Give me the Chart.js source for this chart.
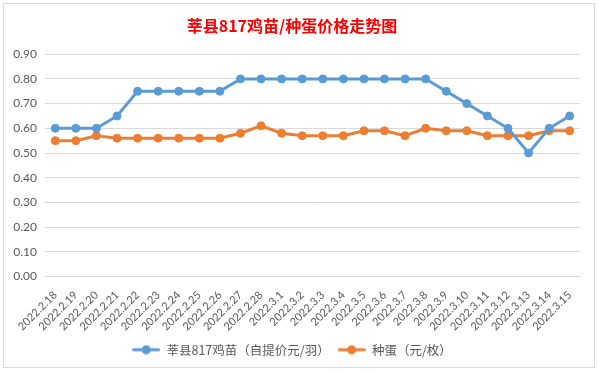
<!DOCTYPE html>
<html>
<head>
<meta charset="utf-8">
<script src="https://cdn.jsdelivr.net/npm/chart.js@4"></script>
<style>
  html, body { margin: 0; padding: 0; background: #fff; }
  body { width: 598px; height: 372px; position: relative; overflow: hidden; }
  #box {
    position: absolute; left: 3px; top: 3px; width: 592px; height: 365px;
    box-sizing: border-box; border: 1px solid #d9d9d9; background: #fff;
  }
  #chart { display: block; }
</style>
</head>
<body>
<div id="box"><canvas id="chart" width="590" height="363"></canvas></div>
<script>
const dates = [
  '2022.2.18', '2022.2.19', '2022.2.20', '2022.2.21', '2022.2.22', '2022.2.23',
  '2022.2.24', '2022.2.25', '2022.2.26', '2022.2.27', '2022.2.28', '2022.3.1',
  '2022.3.2', '2022.3.3', '2022.3.4', '2022.3.5', '2022.3.6', '2022.3.7',
  '2022.3.8', '2022.3.9', '2022.3.10', '2022.3.11', '2022.3.12', '2022.3.13',
  '2022.3.14', '2022.3.15'
];
const chickPrice = [
  0.60, 0.60, 0.60, 0.65, 0.75, 0.75, 0.75, 0.75, 0.75, 0.80, 0.80, 0.80, 0.80,
  0.80, 0.80, 0.80, 0.80, 0.80, 0.80, 0.75, 0.70, 0.65, 0.60, 0.50, 0.60, 0.65
];
const eggPrice = [
  0.55, 0.55, 0.57, 0.56, 0.56, 0.56, 0.56, 0.56, 0.56, 0.58, 0.61, 0.58, 0.57,
  0.57, 0.57, 0.59, 0.59, 0.57, 0.60, 0.59, 0.59, 0.57, 0.57, 0.57, 0.59, 0.59
];
const chickLabel = '莘县817鸡苗（自提价元/羽）';
const eggLabel = '种蛋（元/枚）';
const titleText = '莘县817鸡苗/种蛋价格走势图';

const BLUE = '#5b9bd5';
const ORANGE = '#ed7d31';
const GREY = '#595959';
const CJK = '"Noto Sans CJK SC", "Lato", sans-serif';

// legend marker: short line with a dot in the middle
function legendMarker(color) {
  const c = document.createElement('canvas');
  c.width = 28; c.height = 10;
  const g = c.getContext('2d');
  g.strokeStyle = color;
  g.lineWidth = 3;
  g.lineCap = 'round';
  g.beginPath(); g.moveTo(1.5, 5); g.lineTo(26.5, 5); g.stroke();
  g.fillStyle = color;
  g.beginPath(); g.arc(14, 5, 4.5, 0, Math.PI * 2); g.fill();
  return c;
}
const markers = [legendMarker(BLUE), legendMarker(ORANGE)];

function lineSet(label, data, color) {
  return {
    label, data,
    borderColor: color, backgroundColor: color,
    pointBackgroundColor: color, pointBorderColor: color,
    borderWidth: 3, pointRadius: 4, pointBorderWidth: 1,
    tension: 0, fill: false
  };
}

new Chart(document.getElementById('chart'), {
  type: 'line',
  data: {
    labels: dates,
    datasets: [
      lineSet(chickLabel, chickPrice, BLUE),
      lineSet(eggLabel, eggPrice, ORANGE)
    ]
  },
  options: {
    responsive: false,
    animation: false,
    layout: { padding: { left: 0, right: 14, top: 0, bottom: 1 } },
    plugins: {
      tooltip: { enabled: false },
      title: {
        display: true,
        text: titleText,
        color: '#ff0000',
        font: { family: CJK, size: 16, weight: 'bold' },
        padding: { top: 12, bottom: 19 }
      },
      legend: {
        position: 'bottom',
        labels: {
          usePointStyle: true,
          pointStyleWidth: 28,
          color: GREY,
          font: { family: CJK, size: 12.5 },
          padding: 8,
          generateLabels: chart => chart.data.datasets.map((ds, i) => ({
            text: ds.label,
            pointStyle: markers[i],
            fillStyle: ds.borderColor,
            strokeStyle: ds.borderColor,
            lineWidth: 0,
            fontColor: GREY,
            hidden: false,
            datasetIndex: i
          }))
        }
      }
    },
    scales: {
      x: {
        offset: true,
        grid: { display: false },
        border: { display: true, color: '#d9d9d9' },
        ticks: {
          color: GREY,
          font: { family: 'Lato, sans-serif', size: 11 },
          minRotation: 45, maxRotation: 45,
          autoSkip: false,
          padding: 4
        },
        afterFit: s => { s.height = 59; }
      },
      y: {
        min: 0, max: 0.9,
        grid: { color: '#d9d9d9', drawTicks: false },
        border: { display: false },
        ticks: {
          stepSize: 0.1,
          color: GREY,
          font: { family: 'Lato, sans-serif', size: 12 },
          padding: 8,
          callback: v => Number(v).toFixed(2)
        },
        afterFit: s => { s.width = 41; }
      }
    }
  }
});
</script>
</body>
</html>
